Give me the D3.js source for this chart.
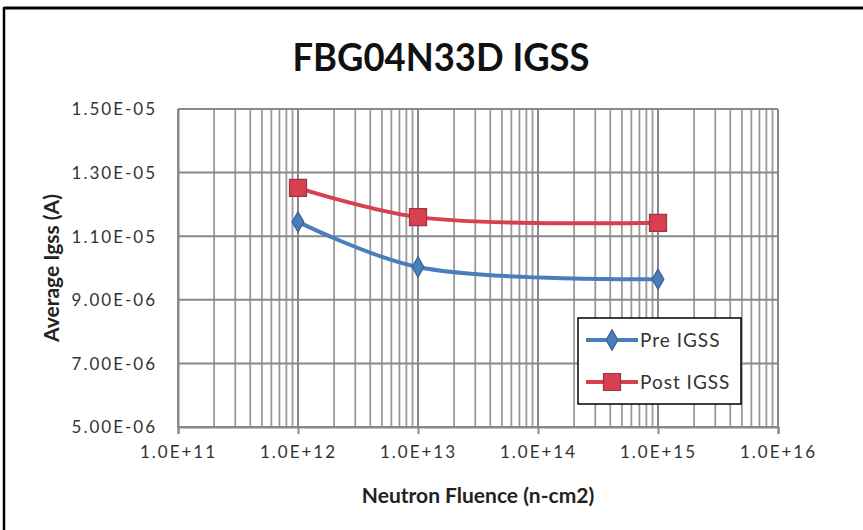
<!DOCTYPE html>
<html>
<head>
<meta charset="utf-8">
<script src="https://cdn.jsdelivr.net/npm/d3@7"></script>
<style>
    body { margin: 0; background: #fff; }
    svg { display: block; }
    .tick-label { font-family: Lato, "Open Sans", sans-serif; font-size: 17px; fill: #333; letter-spacing: 2px; }
</style>
</head>
<body>
<svg id="chart" width="863" height="530"></svg>
<script>
    var fluence = [1e12, 1e13, 1e15];
    var preIgss = [1.145e-5, 1.003e-5, 9.65e-6];
    var postIgss = [1.252e-5, 1.16e-5, 1.142e-5];

    var xTicks = [1e11, 1e12, 1e13, 1e14, 1e15, 1e16];
    var yTicks = [5e-6, 7e-6, 9e-6, 1.1e-5, 1.3e-5, 1.5e-5];
    var seriesNames = ["Pre IGSS", "Post IGSS"];

    var svg = d3.select("#chart");
    var W = 863, H = 530;
    var plot = { left: 178, right: 778, top: 109, bottom: 427 };

    var x = d3.scaleLog().domain([1e11, 1e16]).range([plot.left, plot.right]);
    var y = d3.scaleLinear().domain([5e-6, 1.5e-5]).range([plot.bottom, plot.top]);

    function fmtY(d) {
        var parts = d.toExponential(2).split("e");
        var e = parts[1], sign = e[0], num = e.slice(1);
        return parts[0] + "E" + sign + (num.length < 2 ? "0" + num : num);
    }
    function fmtX(d) {
        var parts = d.toExponential(1).split("e");
        return parts[0] + "E" + parts[1];
    }

    svg.append("rect").attr("width", W).attr("height", H).attr("fill", "#fff");

    // outer frame (top and left only visible)
    svg.append("line").attr("x1", 4).attr("x2", W).attr("y1", 8).attr("y2", 8)
        .attr("stroke", "#000").attr("stroke-width", 3);
    svg.append("line").attr("x1", 4).attr("x2", 4).attr("y1", 7).attr("y2", H)
        .attr("stroke", "#000").attr("stroke-width", 2.5);

    // minor vertical grid
    var minor = [];
    xTicks.slice(0, -1).forEach(function(t) {
        for (var k = 2; k <= 9; k++) minor.push(t * k);
    });
    svg.append("g").selectAll("line").data(minor).enter().append("line")
        .attr("x1", function(d) { return x(d); }).attr("x2", function(d) { return x(d); })
        .attr("y1", plot.top).attr("y2", plot.bottom)
        .attr("stroke", "#999").attr("stroke-width", 1.8);

    // major vertical grid
    svg.append("g").selectAll("line").data(xTicks).enter().append("line")
        .attr("x1", function(d) { return x(d); }).attr("x2", function(d) { return x(d); })
        .attr("y1", plot.top).attr("y2", plot.bottom)
        .attr("stroke", "#888").attr("stroke-width", 2);

    // horizontal grid
    svg.append("g").selectAll("line").data(yTicks).enter().append("line")
        .attr("x1", plot.left).attr("x2", plot.right)
        .attr("y1", function(d) { return y(d); }).attr("y2", function(d) { return y(d); })
        .attr("stroke", "#888").attr("stroke-width", 2);

    // axes
    var xAxis = svg.append("g").attr("transform", "translate(0," + plot.bottom + ")")
        .call(d3.axisBottom(x).tickValues(xTicks).tickFormat(fmtX).tickSizeOuter(0).tickSize(7).tickPadding(12));
    xAxis.select(".domain").attr("stroke", "#888").attr("stroke-width", 2);
    xAxis.selectAll(".tick line").attr("stroke", "#888").attr("stroke-width", 2);
    xAxis.selectAll(".tick text").attr("class", "tick-label").attr("font-family", null).attr("font-size", null);

    var yAxis = svg.append("g").attr("transform", "translate(" + plot.left + ",0)")
        .call(d3.axisLeft(y).tickValues(yTicks).tickFormat(fmtY).tickSizeOuter(0).tickSize(0).tickPadding(21));
    yAxis.select(".domain").attr("stroke", "#888").attr("stroke-width", 2);
    yAxis.selectAll(".tick text").attr("class", "tick-label").attr("font-family", null).attr("font-size", null)
        .attr("dy", "0.35em");

    // title
    svg.append("text").attr("x", 441).attr("y", 71).attr("text-anchor", "middle")
        .attr("font-family", "Lato, 'Open Sans', sans-serif").attr("font-weight", "bold")
        .attr("font-size", 39).attr("fill", "#111")
        .attr("textLength", 297).attr("lengthAdjust", "spacingAndGlyphs")
        .text("FBG04N33D IGSS");

    // axis titles
    svg.append("text").attr("x", 478).attr("y", 503).attr("text-anchor", "middle")
        .attr("font-family", "Lato, 'Open Sans', sans-serif").attr("font-weight", "bold")
        .attr("font-size", 21).attr("fill", "#222")
        .text("Neutron Fluence (n-cm2)");
    svg.append("text").attr("transform", "translate(59,268) rotate(-90)").attr("text-anchor", "middle")
        .attr("font-family", "Lato, 'Open Sans', sans-serif").attr("font-weight", "bold")
        .attr("font-size", 21).attr("fill", "#222")
        .text("Average Igss (A)");

    // series
    var line = d3.line()
        .x(function(d) { return x(d[0]); })
        .y(function(d) { return y(d[1]); })
        .curve(d3.curveCatmullRom.alpha(0.5));

    var series = [
        { name: seriesNames[0], values: d3.zip(fluence, preIgss), color: "#4A7EBB", dark: "#386096", marker: d3.symbolDiamond, size: 120 },
        { name: seriesNames[1], values: d3.zip(fluence, postIgss), color: "#D6404F", dark: "#9E3343", marker: d3.symbolSquare, size: 290 }
    ];

    series.forEach(function(s) {
        svg.append("path").datum(s.values).attr("d", line)
            .attr("fill", "none").attr("stroke", s.color).attr("stroke-width", 4)
            .attr("stroke-linejoin", "round");
        svg.append("g").selectAll("path").data(s.values).enter().append("path")
            .attr("transform", function(d) { return "translate(" + x(d[0]) + "," + y(d[1]) + ")"; })
            .attr("d", d3.symbol().type(s.marker).size(s.size))
            .attr("fill", s.color).attr("stroke", s.dark).attr("stroke-width", 1.2);
    });

    // legend
    var legend = svg.append("g").attr("transform", "translate(578,318)");
    legend.append("rect").attr("width", 163).attr("height", 86)
        .attr("fill", "#fff").attr("stroke", "#000").attr("stroke-width", 1.5);
    series.forEach(function(s, i) {
        var ly = 22 + i * 42;
        legend.append("line").attr("x1", 8).attr("x2", 60).attr("y1", ly).attr("y2", ly)
            .attr("stroke", s.color).attr("stroke-width", 4);
        legend.append("path").attr("transform", "translate(34," + ly + ")")
            .attr("d", d3.symbol().type(s.marker).size(s.size))
            .attr("fill", s.color).attr("stroke", s.dark).attr("stroke-width", 1.2);
        legend.append("text").attr("x", 62).attr("y", ly).attr("dy", "0.35em")
            .attr("class", "tick-label").style("font-size", "19px").style("letter-spacing", "1px")
            .text(s.name);
    });
</script>
</body>
</html>
